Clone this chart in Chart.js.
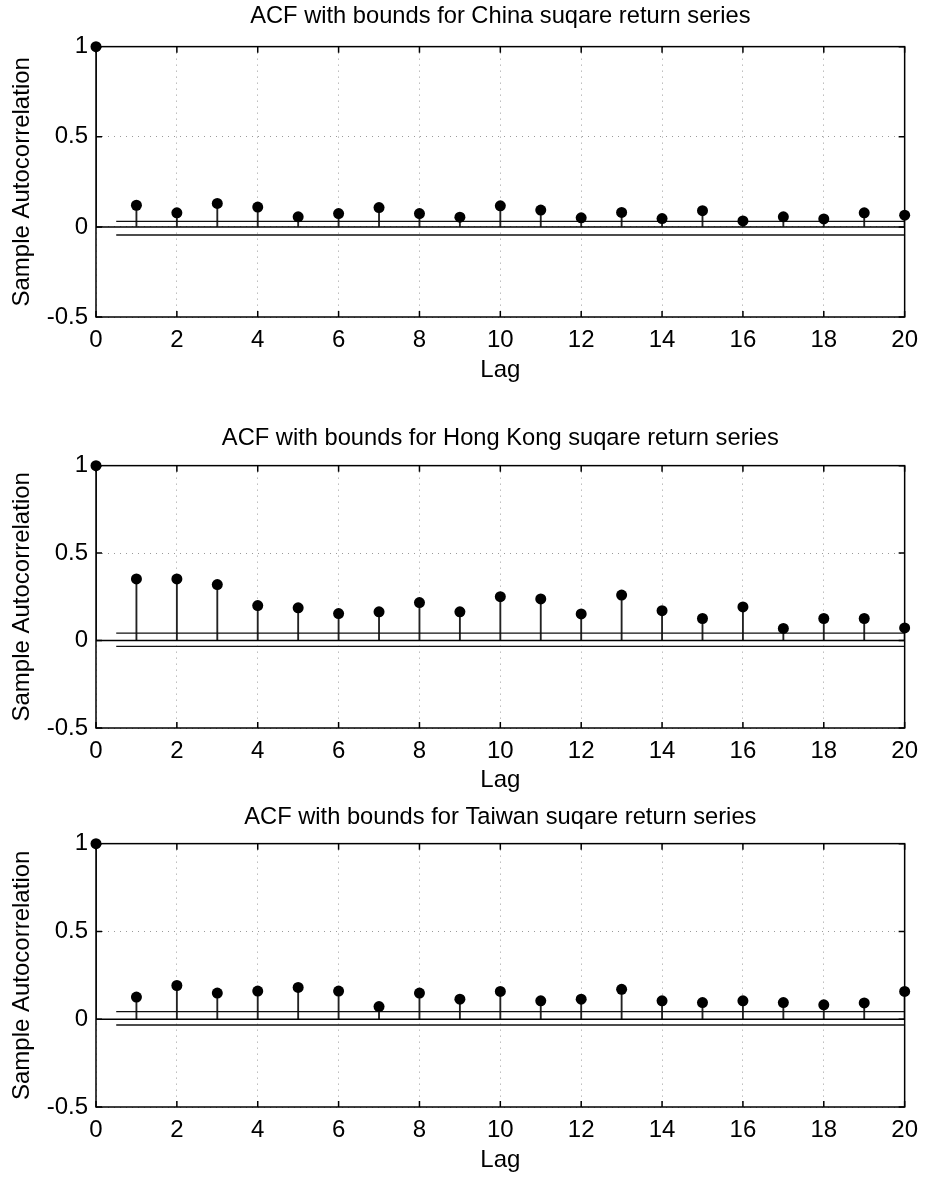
<!DOCTYPE html>
<html>
<head>
<meta charset="utf-8">
<script src="https://cdn.jsdelivr.net/npm/chart.js@4"></script>
<style>
  body { margin: 0; background: #fff; }
  .panel { position: absolute; left: 0; }
</style>
</head>
<body>
<div class="panel" style="top:0px"><canvas id="china" width="927" height="390"></canvas></div>
<div class="panel" style="top:420px"><canvas id="hongkong" width="927" height="377"></canvas></div>
<div class="panel" style="top:797px"><canvas id="taiwan" width="927" height="380"></canvas></div>
<script>
const lags = [0, 1, 2, 3, 4, 5, 6, 7, 8, 9, 10, 11, 12, 13, 14, 15, 16, 17, 18, 19, 20];

const chinaAcf = [1, 0.12, 0.078, 0.13, 0.11, 0.056, 0.074, 0.107, 0.074, 0.054, 0.117,
    0.093, 0.05, 0.08, 0.046, 0.09, 0.033, 0.056, 0.044, 0.078, 0.065];
const hongKongAcf = [1, 0.352, 0.352, 0.32, 0.2, 0.187, 0.154, 0.164, 0.217, 0.164, 0.251,
    0.238, 0.152, 0.26, 0.171, 0.126, 0.192, 0.069, 0.126, 0.126, 0.072];
const taiwanAcf = [1, 0.126, 0.192, 0.149, 0.16, 0.181, 0.16, 0.072, 0.149, 0.114, 0.158,
    0.105, 0.114, 0.17, 0.105, 0.095, 0.105, 0.095, 0.082, 0.093, 0.158];

// confidence bounds [upper, lower]
const chinaBounds = [0.03, -0.045];
const hongKongBounds = [0.042, -0.033];
const taiwanBounds = [0.043, -0.033];
const boundLags = [0.5, 20];

const xTicksStep = 2;
const yTicks = [-0.5, 0, 0.5, 1];
const yTickLabels = ["-0.5", "0", "0.5", "1"];

const FONT = "'Liberation Sans', Arial, sans-serif";

// box + inward tick marks, matlab style
const framePlugin = {
    id: "frame",
    afterDatasetsDraw(chart) {
        const { ctx, chartArea: a, scales } = chart;
        ctx.save();
        ctx.strokeStyle = "#000";
        ctx.lineWidth = 1.5;
        ctx.strokeRect(a.left, a.top, a.right - a.left, a.bottom - a.top);
        ctx.beginPath();
        scales.x.ticks.forEach((t) => {
            const px = scales.x.getPixelForValue(t.value);
            ctx.moveTo(px, a.bottom); ctx.lineTo(px, a.bottom - 6);
            ctx.moveTo(px, a.top); ctx.lineTo(px, a.top + 6);
        });
        scales.y.ticks.forEach((t) => {
            const py = scales.y.getPixelForValue(t.value);
            ctx.moveTo(a.left, py); ctx.lineTo(a.left + 6, py);
            ctx.moveTo(a.right, py); ctx.lineTo(a.right - 6, py);
        });
        ctx.stroke();
        ctx.restore();
    },
};

const makeAcfChart = (id, title, acf, bounds, lay) => {
    const ctx = document.getElementById(id).getContext("2d");
    const pts = lags.map((l, i) => ({ x: l, y: acf[i] }));
    const line = (y) => boundLags.map((x) => ({ x, y }));

    return new Chart(ctx, {
        type: "scatter",
        data: {
            datasets: [
                {
                    type: "bar",
                    data: pts,
                    backgroundColor: "#222",
                    barThickness: 1.2,
                    order: 3,
                },
                {
                    type: "line",
                    data: [{ x: 0, y: 0 }, { x: 20, y: 0 }],
                    borderColor: "#000",
                    borderWidth: 1.5,
                    pointRadius: 0,
                    order: 2,
                },
                {
                    type: "line",
                    data: line(bounds[0]),
                    borderColor: "#111",
                    borderWidth: 1.3,
                    pointRadius: 0,
                    order: 2,
                },
                {
                    type: "line",
                    data: line(bounds[1]),
                    borderColor: "#111",
                    borderWidth: 1.3,
                    pointRadius: 0,
                    order: 2,
                },
                {
                    type: "scatter",
                    data: pts,
                    pointRadius: 5.5,
                    pointBackgroundColor: "#000",
                    pointBorderWidth: 0,
                    clip: false,
                    order: 1,
                },
            ],
        },
        options: {
            responsive: false,
            animation: false,
            layout: { padding: { left: 0, right: 19, top: 0, bottom: 0 } },
            plugins: {
                legend: { display: false },
                tooltip: { enabled: false },
                title: {
                    display: true,
                    fullSize: false,
                    text: title,
                    color: "#000",
                    font: { family: FONT, size: 23.7, weight: "normal" },
                    padding: { top: lay.titleTop, bottom: lay.titleBottom },
                },
            },
            scales: {
                x: {
                    type: "linear",
                    min: 0,
                    max: 20,
                    offset: false,
                    afterFit: (s) => { s.height = lay.xHeight; },
                    ticks: {
                        stepSize: xTicksStep,
                        color: "#000",
                        padding: 9,
                        font: { family: FONT, size: 24 },
                    },
                    grid: { offset: false, color: "#9a9a9a", lineWidth: 1, drawTicks: false },
                    border: { display: false, dash: [1, 5] },
                    title: {
                        display: true,
                        text: "Lag",
                        color: "#000",
                        font: { family: FONT, size: 24 },
                        padding: { top: 0, bottom: lay.lagBottom },
                    },
                },
                y: {
                    min: -0.5,
                    max: 1,
                    afterFit: (s) => { s.width = 96; },
                    afterBuildTicks: (s) => { s.ticks = yTicks.map((v) => ({ value: v })); },
                    ticks: {
                        color: "#000",
                        padding: 8,
                        font: { family: FONT, size: 24 },
                        callback: (v) => yTickLabels[yTicks.indexOf(v)],
                    },
                    grid: { color: "#9a9a9a", lineWidth: 1, drawTicks: false },
                    border: { display: false, dash: [1, 5] },
                    title: {
                        display: true,
                        text: "Sample Autocorrelation",
                        color: "#000",
                        font: { family: FONT, size: 24 },
                        padding: { top: 8, bottom: 0 },
                    },
                },
            },
        },
        plugins: [framePlugin],
    });
};

makeAcfChart("china", "ACF with bounds for China suqare return series", chinaAcf, chinaBounds,
    { titleTop: 2, titleBottom: 16.2, xHeight: 73, lagBottom: 5.6 });
makeAcfChart("hongkong", "ACF with bounds for Hong Kong suqare return series", hongKongAcf, hongKongBounds,
    { titleTop: 4.6, titleBottom: 12.6, xHeight: 69, lagBottom: 2 });
makeAcfChart("taiwan", "ACF with bounds for Taiwan suqare return series", taiwanAcf, taiwanBounds,
    { titleTop: 6.1, titleBottom: 12.1, xHeight: 70, lagBottom: 2.6 });
</script>
</body>
</html>
